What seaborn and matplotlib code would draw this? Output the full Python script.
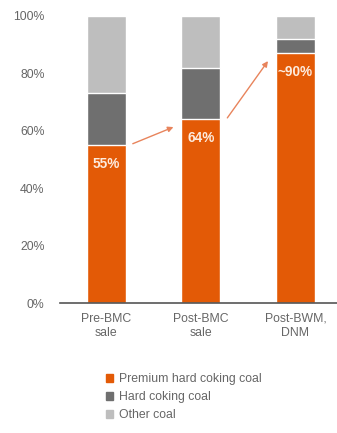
import matplotlib
matplotlib.use("Agg")
import matplotlib.pyplot as plt
import matplotlib.patches as mpatches
import seaborn as sns
import pandas as pd

categories = ["Pre-BMC\nsale", "Post-BMC\nsale", "Post-BWM,\nDNM"]
premium = [55, 64, 87]
hard = [18, 18, 5]
other = [27, 18, 8]
value_labels = ["55%", "64%", "~90%"]
series_names = ["Premium hard coking coal", "Hard coking coal", "Other coal"]
colors = ["#E35A06", "#6F6F6F", "#BEBEBE"]

sns.set_style("white")
plt.rcParams["font.family"] = ["Liberation Sans", "DejaVu Sans"]

df = pd.DataFrame({"category": categories, "premium": premium, "hard": hard, "other": other})
df["top_hard"] = df["premium"] + df["hard"]
df["top_other"] = df["top_hard"] + df["other"]

fig = plt.figure(figsize=(3.37, 4.33), dpi=100)
ax = fig.add_axes([60 / 337, 1 - 303 / 433, 1 - 60 / 337, (303 - 16) / 433])

# layered bars to build the stack
sns.barplot(data=df, x="category", y="top_other", color=colors[2], width=0.41, ax=ax, saturation=1)
sns.barplot(data=df, x="category", y="top_hard", color=colors[1], width=0.41, ax=ax, saturation=1)
sns.barplot(data=df, x="category", y="premium", color=colors[0], width=0.41, ax=ax, saturation=1)

ax.set_ylim(0, 100)
ax.set_xlim(-0.49, 2.44)
ax.set_yticks([0, 20, 40, 60, 80, 100])
ax.set_yticklabels([f"{t}%" for t in [0, 20, 40, 60, 80, 100]])
ax.set_xlabel("")
ax.set_ylabel("")
ax.tick_params(axis="both", length=0, colors="#666666", labelsize=8.8)
ax.tick_params(axis="y", pad=11)
ax.tick_params(axis="x", pad=7)
for s in ["top", "right", "left"]:
    ax.spines[s].set_visible(False)
ax.spines["bottom"].set_color("#555555")
ax.spines["bottom"].set_linewidth(1.2)

for i, (v, lab) in enumerate(zip(premium, value_labels)):
    ax.text(i, v - 6.5, lab, ha="center", va="center", color="#FDEBDD",
            fontsize=9.8, fontweight="bold")

for i in range(len(premium) - 1):
    ax.annotate("", xy=(i + 0.71, premium[i + 1] - 2.7), xytext=(i + 0.28, premium[i] + 0.5),
                arrowprops=dict(arrowstyle="-|>", color="#E8845C", lw=1.0,
                                mutation_scale=8, shrinkA=0, shrinkB=0))

handles = [mpatches.Patch(color=c, label=n) for c, n in zip(colors, series_names)]
fig.legend(handles=handles, loc="upper left", bbox_to_anchor=(106 / 337, 1 - 373 / 433),
           frameon=False, fontsize=8.8, handlelength=0.6, handleheight=0.6,
           handletextpad=0.5, labelspacing=0.5, borderpad=0, borderaxespad=0,
           labelcolor="#666666")

fig.savefig("out.png", dpi=100)
